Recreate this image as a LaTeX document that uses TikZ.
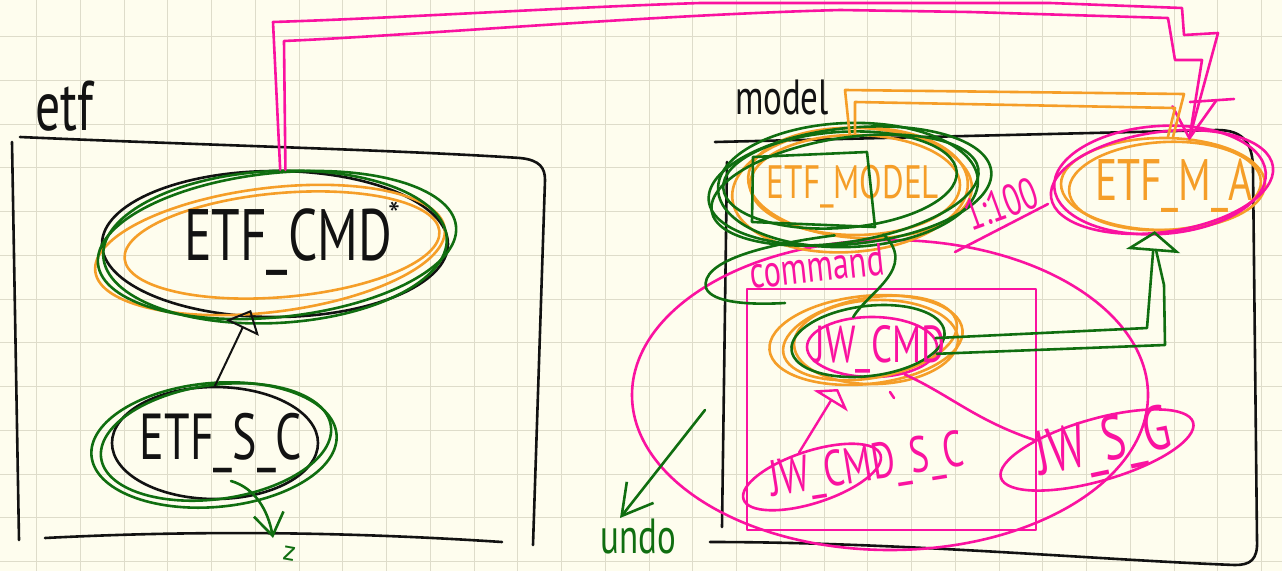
\documentclass[tikz,border=0pt]{standalone}
\usepackage{fontspec}
\usepackage{graphicx}
\setmainfont{PT Sans}
\usetikzlibrary{shapes.geometric,arrows.meta}
\definecolor{paper}{RGB}{254,253,238}
\definecolor{gridc}{RGB}{222,220,202}
\definecolor{inkblack}{RGB}{18,18,18}
\definecolor{inkorange}{RGB}{245,158,40}
\definecolor{inkgreen}{RGB}{16,110,16}
\definecolor{inkpink}{RGB}{250,18,160}
\newcommand\hfs[1]{\fontsize{#1}{#1}\selectfont}
\newcommand\tallt[1]{\scalebox{0.92}[1.3]{#1}}
\tikzset{
  pen/.style={line width=2.6pt, line cap=round, line join=round},
  blk/.style={pen, draw=inkblack},
  org/.style={pen, draw=inkorange},
  grn/.style={pen, draw=inkgreen},
  pnk/.style={pen, draw=inkpink},
  gridline/.style={line width=1.2pt, draw=gridc},
  txt/.style={inner sep=0pt, outer sep=0pt},
  oval/.style={ellipse, inner sep=0pt},
}
\begin{document}
\begin{tikzpicture}[x=1pt,y=-1pt]
\fill[paper] (0,0) rectangle (1282,571);
\useasboundingbox (0,0) rectangle (1282,571);
% grid
\foreach \i in {0,...,28} \draw[gridline] ({36.6+43.75*\i},0) -- ++(0,571);
\foreach \j in {0,...,12} \draw[gridline] (0,{36.6+43.75*\j}) -- ++(1282,0);

% ---------- etf frame ----------
\node[txt, text=inkblack, font=\hfs{54}] (etflabel) at (64,106) {\tallt{etf}};
\draw[blk] (12,142) -- (19,540);
\draw[blk] (20,137) .. controls (200,145) and (400,150) .. (520,158) .. controls (540,160) and (545,168) .. (545,180) -- (533,545);
\draw[blk] (45,538) .. controls (200,530) and (350,532) .. (502,542);

% ---------- model frame ----------
\node[txt, text=inkblack, font=\hfs{38}] (modellabel) at (782,98) {\tallt{model}};
\draw[blk] (715,142) -- (1217,130) .. controls (1245,130) and (1253,145) .. (1253,170) -- (1257,540) .. controls (1258,560) and (1250,565) .. (1235,565) .. controls (1100,560) and (900,542) .. (710,542);
\draw[blk] (727,162) -- (722,527);

% ---------- big pink loop and JW box ----------
\draw[pnk] (890,395) ellipse [x radius=258pt, y radius=155pt];
\draw[pnk] (747,289) rectangle (1036,530);

% ---------- ETF_CMD ----------
\node[oval, blk, minimum width=346pt, minimum height=146pt] (cmd) at (275,244) {};
\draw[org, rotate around={7:(270,250)}] (270,250) ellipse [x radius=176pt, y radius=62pt];
\draw[org, rotate around={5:(282,245)}] (282,245) ellipse [x radius=158pt, y radius=52pt];
\draw[grn, rotate around={6:(277,245)}] (277,245) ellipse [x radius=180pt, y radius=72pt];
\draw[grn, rotate around={3:(275,247)}] (275,247) ellipse [x radius=172pt, y radius=76pt];
\node[txt, text=inkblack, font=\hfs{56}] (cmdtext) at (288,242) {\tallt{ETF\_CMD}};
\node[txt, text=inkblack, font=\hfs{34}] (cmdstar) at (394,214) {*};

% ---------- ETF_S_C ----------
\node[oval, blk, minimum width=206pt, minimum height=112pt] (sc) at (215,443) {};
\draw[grn, rotate around={5:(214,445)}] (214,445) ellipse [x radius=123pt, y radius=62pt];
\draw[grn, rotate around={8:(216,442)}] (216,442) ellipse [x radius=116pt, y radius=57pt];
\node[txt, text=inkblack, font=\hfs{50}] (sctext) at (221,443) {\tallt{ETF\_S\_C}};

\coordinate (cmdtip) at (251,310);
\draw[blk, line width=2pt, -{Triangle[open, length=20pt, width=36pt, line width=2pt]}] (sc.north) -- (cmdtip);

\coordinate (scfrom) at (231,481);
\coordinate (sctip) at (273,538);
\draw[grn, -{Straight Barb[length=22pt, width=30pt]}] (scfrom) .. controls (255,488) and (268,510) .. (sctip);
\node[txt, text=inkgreen, font=\hfs{28}, rotate=-10, anchor=base] (zed) at (288,561) {z};

% ---------- ETF_MODEL ----------
\node[oval, org, minimum width=210pt, minimum height=100pt] (em) at (855,185) {};
\node[txt, text=inkorange, font=\hfs{36}] (emtext) at (853,187) {\tallt{ETF\_MODEL}};
\draw[org, rotate around={4:(850,190)}] (850,190) ellipse [x radius=118pt, y radius=62pt];
\draw[org, rotate around={-3:(860,183)}] (860,183) ellipse [x radius=112pt, y radius=55pt];
\draw[grn, rotate around={6:(850,186)}] (850,186) ellipse [x radius=142pt, y radius=58pt];
\draw[grn, rotate around={9:(845,190)}] (845,190) ellipse [x radius=135pt, y radius=52pt];
\draw[grn, rotate around={2:(848,185)}] (848,185) ellipse [x radius=130pt, y radius=62pt];
\draw[grn, rotate around={4:(840,180)}] (840,180) ellipse [x radius=117pt, y radius=48pt];
\draw[grn] (753,157) -- (867,152) -- (875,227) -- (752,222) -- cycle;

% ---------- ETF_M_A ----------
\node[oval, org, minimum width=204pt, minimum height=92pt] (ma) at (1163,184) {};
\draw[org, rotate around={3:(1165,186)}] (1165,186) ellipse [x radius=96pt, y radius=44pt];
\draw[pnk, rotate around={8:(1162,182)}] (1162,182) ellipse [x radius=112pt, y radius=50pt];
\draw[pnk, rotate around={4:(1160,180)}] (1160,180) ellipse [x radius=106pt, y radius=54pt];
\node[txt, text=inkorange, font=\hfs{45}] (matext) at (1174,186) {\tallt{ETF\_M\_A}};

% labels
\draw[pnk] (955,252) -- (1048,204);
\node[txt, text=inkpink, font=\hfs{34}, rotate=20] (ratio) at (1001,204) {\tallt{1:100}};
\node[txt, text=inkpink, font=\hfs{35}, rotate=6] (cmdword) at (817,266) {\tallt{command}};

% ---------- JW_CMD ----------
\node[oval, pnk, minimum width=130pt, minimum height=60pt] (jw) at (872,347) {};
\draw[org, rotate around={6:(866,340)}] (866,340) ellipse [x radius=97pt, y radius=44pt];
\draw[org, rotate around={10:(870,338)}] (870,338) ellipse [x radius=88pt, y radius=40pt];
\draw[org, rotate around={2:(876,342)}] (876,342) ellipse [x radius=82pt, y radius=42pt];
\draw[grn, rotate around={7:(868,341)}] (868,341) ellipse [x radius=77pt, y radius=35pt];
\node[txt, text=inkpink, font=\hfs{40}] (jwtext) at (880,349) {\tallt{JW\_CMD}};

% ---------- JW_CMD_S_C ----------
\node[oval, pnk, minimum width=144pt, minimum height=52pt, rotate=18] (jwsc) at (812,477) {};
\node[txt, text=inkpink, font=\hfs{39}, rotate=9] (jwsctext) at (867,468) {\tallt{JW\_CMD\_S\_C}};

% ---------- JW_S_G ----------
\node[oval, pnk, minimum width=200pt, minimum height=62pt, rotate=16] (jwsg) at (1097,450) {};
\node[txt, text=inkpink, font=\hfs{48}, rotate=12] (jwsgtext) at (1104,446) {\tallt{JW\_S\_G}};

% ---------- connectors ----------
% pink double line ETF_CMD -> ETF_M_A
\draw[pnk] (cmd.86) -- (273,22) .. controls (400,18) and (550,8) .. (700,3) -- (1050,3) -- (1182,8) -- (1184,35) -- (1218,33) -- (ma.60);
\draw[pnk] (cmd.82) -- (284,41) .. controls (420,35) and (650,15) .. (840,10) -- (970,12) -- (1168,18) -- (1175,60) -- (1202,60) -- (ma.60);
\draw[pnk] (ma.60) -- ++(-17,-32);
\draw[pnk] (ma.60) -- ++(27,-38);
\draw[pnk] (1190,102) -- (1234,99);

% orange double line ETF_MODEL -> ETF_M_A
\draw[org] (em.96) -- (845,90) -- (1184,94) -- (ma.78);
\draw[org] (em.90) -- (855,102) -- (1175,108) -- (ma.84);

% green double line JW_CMD -> ETF_M_A
\draw[grn, -{Triangle[open, length=20pt, width=54pt, line width=2.6pt]}] (jw.8) -- (1147,328) -- (ma.260);
\draw[grn] (jw.354) -- (1165,345) -- (1164,285) -- (1156,250);

% green ETF_MODEL -> JW_CMD
\draw[grn] (em.300) .. controls (918,268) and (868,292) .. (jw.122);
\coordinate (hookend) at (785,303);
\draw[grn] (em.248) .. controls (760,245) and (700,262) .. (706,288) .. controls (712,303) and (750,305) .. (hookend);

% pink JW_CMD_S_C -> JW_CMD, JW_CMD -> JW_S_G
\coordinate (jwtip) at (838,389);
\draw[pnk, line width=2.4pt, -{Triangle[open, length=14pt, width=40pt, line width=2.4pt]}] (jwsc.100) -- (jwtip);
\draw[pnk] (jw.320) .. controls (950,395) and (975,420) .. (jwsg.155);
\draw[pnk] (890,392) -- (894,398);

% undo
\coordinate (undofrom) at (705,410);
\coordinate (undotip) at (620,518);
\draw[grn, -{Straight Barb[length=30pt, width=34pt]}] (undofrom) -- (undotip);
\node[txt, text=inkgreen, font=\hfs{38}, anchor=base] (undo) at (638,553) {\tallt{undo}};
\end{tikzpicture}
\end{document}
